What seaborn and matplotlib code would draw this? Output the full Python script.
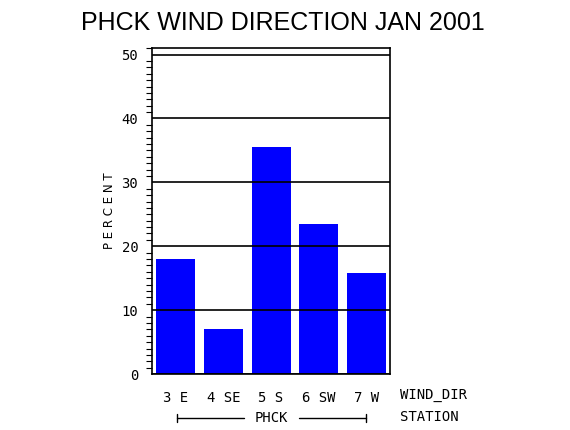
import numpy as np
import pandas as pd
import matplotlib
matplotlib.use("Agg")
import matplotlib.pyplot as plt
import seaborn as sns
from matplotlib.ticker import MultipleLocator

# data
wind_dir = ["3 E", "4 SE", "5 S", "6 SW", "7 W"]
percent = [18.0, 7.0, 35.6, 23.5, 15.8]
station = "PHCK"
title = "PHCK WIND DIRECTION JAN 2001"

df = pd.DataFrame({"wind_dir": wind_dir, "percent": percent})

sns.set_theme(style="white")
plt.rcParams["font.family"] = ["DejaVu Sans Mono", "DejaVu Sans"]
plt.rcParams["text.color"] = "black"
plt.rcParams["xtick.color"] = "black"
plt.rcParams["ytick.color"] = "black"
plt.rcParams["axes.labelcolor"] = "black"

fig = plt.figure(figsize=(5.7, 4.3), dpi=100)
ax = fig.add_axes([0.267, 0.130, 0.417, 0.758])

sns.barplot(data=df, x="wind_dir", y="percent", color="#0000ff",
            saturation=1, width=0.82, ax=ax, edgecolor="none")

ax.set_xlim(-0.5, 4.5)
ax.set_ylim(0, 51)
ax.yaxis.set_major_locator(MultipleLocator(10))
ax.yaxis.set_minor_locator(MultipleLocator(1))
ax.tick_params(axis="y", which="major", direction="out", length=9, width=1,
               labelsize=10, pad=1)
ax.tick_params(axis="y", which="minor", direction="out", length=4, width=0.8,
               left=True)
ax.tick_params(axis="x", length=0, labelsize=10, pad=12)

# gridlines drawn over the bars
ax.set_axisbelow(False)
ax.yaxis.grid(True, color="black", linewidth=1.2)
ax.xaxis.grid(False)

for sp in ax.spines.values():
    sp.set_visible(True)
    sp.set_color("black")
    sp.set_linewidth(1.2)

ax.set_xlabel("")
ax.set_ylabel("P E R C E N T", fontsize=8.5, family="DejaVu Sans", labelpad=4)

fig.suptitle(title, x=0.497, y=0.975, fontsize=18, family="Liberation Sans")

# row labels at right and station bracket below
fig.text(400 / 570, 1 - 395 / 430, "WIND_DIR", fontsize=10, va="center", ha="left")
fig.text(400 / 570, 1 - 417 / 430, "STATION", fontsize=10, va="center", ha="left")

yb = 1 - 418 / 430
fig.text(271 / 570, yb, station, fontsize=10, va="center", ha="center")
fig.add_artist(plt.Line2D([177 / 570, 244 / 570], [yb, yb], color="black", lw=1))
fig.add_artist(plt.Line2D([299 / 570, 366 / 570], [yb, yb], color="black", lw=1))
for xe in (177, 366):
    fig.add_artist(plt.Line2D([xe / 570, xe / 570], [yb - 4 / 430, yb + 4 / 430],
                              color="black", lw=1))

fig.savefig("out.png", dpi=100, facecolor="white")
